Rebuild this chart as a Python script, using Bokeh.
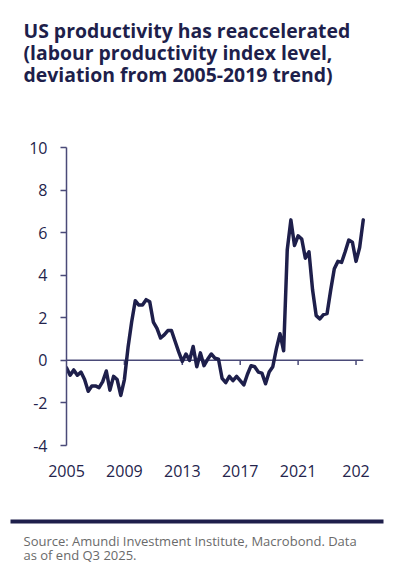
from bokeh.plotting import figure
from bokeh.layouts import column
from bokeh.models import Range1d, FixedTicker, LinearAxis
from bokeh.core.properties import value
from bokeh.embed import file_html
from bokeh.resources import INLINE

# ---- data ----
title_lines = [
    "US productivity has reaccelerated",
    "(labour productivity index level,",
    "deviation from 2005-2019 trend)",
]
source_lines = [
    "Source: Amundi Investment Institute, Macrobond. Data",
    "as of end Q3 2025.",
]
start_year = 2005
productivity_gap = [
    -0.35, -0.7, -0.45, -0.7,    # 2005
    -0.55, -0.9, -1.45, -1.2,    # 2006
    -1.2, -1.28, -1.0, -0.5,     # 2007
    -1.4, -0.75, -0.9, -1.65,    # 2008
    -0.9, 0.6, 1.8, 2.8,         # 2009
    2.6, 2.6, 2.85, 2.75,        # 2010
    1.8, 1.5, 1.05, 1.2,         # 2011
    1.4, 1.4, 0.9, 0.4,          # 2012
    -0.05, 0.3, 0.0, 0.65,       # 2013
    -0.3, 0.35, -0.25, 0.05,     # 2014
    0.3, 0.1, 0.05, -0.85,       # 2015
    -1.05, -0.75, -0.95, -0.75,  # 2016
    -0.95, -1.15, -0.65, -0.25,  # 2017
    -0.3, -0.55, -0.6, -1.1,     # 2018
    -0.55, -0.3, 0.55, 1.25,     # 2019
    0.45, 5.2, 6.6, 5.4,         # 2020
    5.85, 5.7, 4.8, 5.1,         # 2021
    3.3, 2.1, 1.95, 2.15,        # 2022
    2.2, 3.3, 4.3, 4.65,         # 2023
    4.6, 5.1, 5.65, 5.55,        # 2024
    4.65, 5.3, 6.6,              # 2025 Q1-Q3
]
quarters = [start_year + i / 4 for i in range(len(productivity_gap))]
x_ticks = [2005, 2009, 2013, 2017, 2021, 2025]
x_tick_labels = {2025: "202"}
y_ticks = [-4, -2, 0, 2, 4, 6, 8, 10]
y_tick_labels = {-4: "-4", -2: "-2"}

NAVY = "#1e1f4b"
AXIS = "#4a4a78"
FONT = "Open Sans"
W = 400

# ---- title ----
t = figure(width=W, height=120, x_range=Range1d(0, W), y_range=Range1d(120, 0),
           output_backend="svg", toolbar_location=None,
           x_axis_location=None, y_axis_location=None,
           min_border=0, outline_line_color=None)
t.grid.visible = False
t.text(x=[23, 23, 23], y=[29.5, 51.5, 73.5], text=title_lines,
       text_font=value(FONT), text_font_style="bold", text_font_size="19.4px",
       text_color=NAVY, text_baseline="alphabetic", text_align="left")

# ---- main chart ----
p = figure(width=W, height=390, x_range=Range1d(2005, 2026), y_range=Range1d(-4, 10),
           output_backend="svg", toolbar_location=None,
           x_axis_location=None, y_axis_location=None,
           min_border_left=66, min_border_right=30, min_border_top=27, min_border_bottom=65,
           outline_line_color=None)
p.grid.visible = False

xa = LinearAxis(ticker=FixedTicker(ticks=x_ticks), major_label_overrides=x_tick_labels)
xa.axis_line_color = None
xa.major_tick_line_color = None
xa.minor_tick_line_color = None
xa.major_label_standoff = 13
xa.major_label_text_font = FONT
xa.major_label_text_font_size = "16px"
xa.major_label_text_color = "#24244c"
p.add_layout(xa, "below")

ya = LinearAxis(ticker=FixedTicker(ticks=y_ticks), major_label_overrides=y_tick_labels)
ya.axis_line_color = AXIS
ya.axis_line_width = 1.5
ya.major_tick_line_color = AXIS
ya.major_tick_line_width = 1.5
ya.major_tick_out = 6
ya.major_tick_in = 0
ya.minor_tick_line_color = None
ya.major_label_standoff = 13
ya.major_label_text_font = FONT
ya.major_label_text_font_size = "16px"
ya.major_label_text_color = "#24244c"
p.add_layout(ya, "left")

# zero line with small ticks
p.line(x=[quarters[0], quarters[-1]], y=[0, 0], line_color=AXIS, line_width=1.5)
p.segment(x0=x_ticks[1:], y0=[0] * (len(x_ticks) - 1), x1=x_ticks[1:],
          y1=[-0.22] * (len(x_ticks) - 1), line_color=AXIS, line_width=1.5)

p.line(x=quarters, y=productivity_gap, line_color=NAVY, line_width=3.5,
       line_join="round", line_cap="round")

# ---- footer ----
f = figure(width=W, height=56, x_range=Range1d(0, W), y_range=Range1d(56, 0),
           output_backend="svg", toolbar_location=None,
           x_axis_location=None, y_axis_location=None,
           min_border=0, outline_line_color=None)
f.grid.visible = False
f.segment(x0=[10], y0=[11], x1=[383], y1=[11], line_color=NAVY, line_width=4)
f.text(x=[23, 23], y=[30.5, 44.5], text=source_lines,
       text_font=value(FONT), text_font_size="13px",
       text_color="#6a6a6a", text_baseline="alphabetic", text_align="left")

layout = column(column(t), column(p), column(f), spacing=0)
open("out.html", "w").write(file_html(layout, INLINE))
